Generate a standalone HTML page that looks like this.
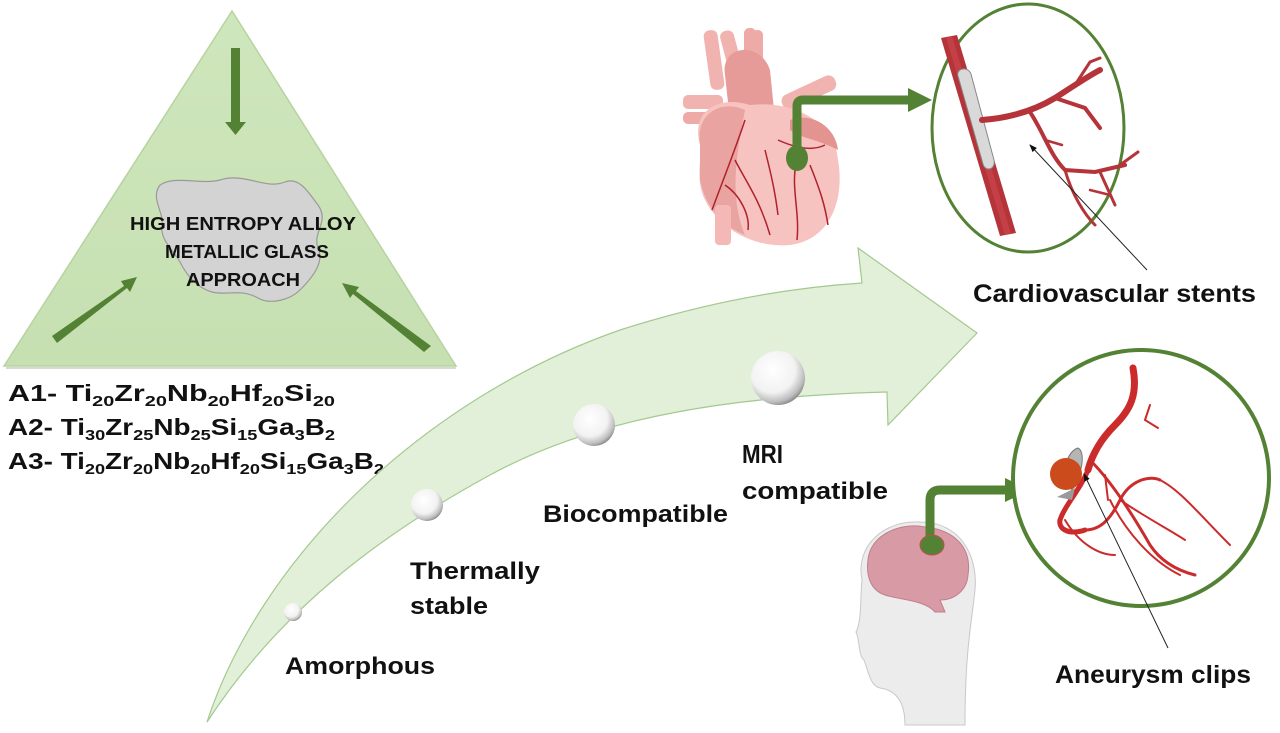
<!DOCTYPE html>
<html><head><meta charset="utf-8"><style>
html,body{margin:0;padding:0;background:#fff;width:1280px;height:733px;overflow:hidden}
svg{display:block}
text{font-family:"Liberation Sans",sans-serif;font-weight:bold;fill:#111}
</style></head><body>
<svg width="1280" height="733" viewBox="0 0 1280 733" xmlns="http://www.w3.org/2000/svg">
<defs>
<linearGradient id="tg" x1="0" y1="0" x2="0" y2="1"><stop offset="0" stop-color="#cfe6bc"/><stop offset="1" stop-color="#c6e0b2"/></linearGradient>
<radialGradient id="sp" cx="0.4" cy="0.35" r="0.7"><stop offset="0" stop-color="#ffffff"/><stop offset="0.6" stop-color="#f2f2f2"/><stop offset="0.85" stop-color="#bdbdbd"/><stop offset="1" stop-color="#7a7a7a"/></radialGradient>
<marker id="ah" markerWidth="8" markerHeight="8" refX="7" refY="4" orient="auto" markerUnits="userSpaceOnUse"><path d="M0,1 L8,4 L0,7 Z" fill="#111"/></marker>
</defs>

<!-- Triangle -->
<polygon points="232,11 4,366 456,366" fill="url(#tg)" stroke="#b7d3a0" stroke-width="1.5"/>
<line x1="6" y1="368" x2="456" y2="368" stroke="#aab89f" stroke-width="2" opacity="0.5"/>
<path d="M160,185 C175,175 200,185 220,180 C245,172 265,190 285,182 C300,176 310,195 318,205 C330,222 312,232 318,248 C325,262 312,278 300,290 C290,300 270,305 258,298 C240,288 228,296 212,292 C198,288 188,278 180,262 C172,248 160,240 162,225 C164,212 150,198 160,185 Z" fill="#d3d3d3" stroke="#9a9a9a" stroke-width="1.2"/>
<text x="243" y="230" font-size="18" text-anchor="middle" textLength="226" lengthAdjust="spacingAndGlyphs">HIGH ENTROPY ALLOY</text>
<text x="247" y="258" font-size="18" text-anchor="middle" textLength="164" lengthAdjust="spacingAndGlyphs">METALLIC GLASS</text>
<text x="243" y="286" font-size="18" text-anchor="middle" textLength="114" lengthAdjust="spacingAndGlyphs">APPROACH</text>
<g fill="#548235">
<polygon points="231,48 240,48 240,122 246,122 235.5,135 225,122 231,122"/>
<polygon points="52,336 124,286 121,281 137,277 130,292 127,288 57,343"/>
<polygon points="431,346 356,291 359,287 342,283 350,298 353,294 424,352"/>
</g>
<text x="8" y="401" font-size="23" textLength="327" lengthAdjust="spacingAndGlyphs">A1- Ti<tspan font-size="15" dy="5">20</tspan><tspan dy="-5">Zr</tspan><tspan font-size="15" dy="5">20</tspan><tspan dy="-5">Nb</tspan><tspan font-size="15" dy="5">20</tspan><tspan dy="-5">Hf</tspan><tspan font-size="15" dy="5">20</tspan><tspan dy="-5">Si</tspan><tspan font-size="15" dy="5">20</tspan></text>
<text x="8" y="435" font-size="23" textLength="327" lengthAdjust="spacingAndGlyphs">A2- Ti<tspan font-size="15" dy="5">30</tspan><tspan dy="-5">Zr</tspan><tspan font-size="15" dy="5">25</tspan><tspan dy="-5">Nb</tspan><tspan font-size="15" dy="5">25</tspan><tspan dy="-5">Si</tspan><tspan font-size="15" dy="5">15</tspan><tspan dy="-5">Ga</tspan><tspan font-size="15" dy="5">3</tspan><tspan dy="-5">B</tspan><tspan font-size="15" dy="5">2</tspan></text>
<text x="8" y="469" font-size="23" textLength="376" lengthAdjust="spacingAndGlyphs">A3- Ti<tspan font-size="15" dy="5">20</tspan><tspan dy="-5">Zr</tspan><tspan font-size="15" dy="5">20</tspan><tspan dy="-5">Nb</tspan><tspan font-size="15" dy="5">20</tspan><tspan dy="-5">Hf</tspan><tspan font-size="15" dy="5">20</tspan><tspan dy="-5">Si</tspan><tspan font-size="15" dy="5">15</tspan><tspan dy="-5">Ga</tspan><tspan font-size="15" dy="5">3</tspan><tspan dy="-5">B</tspan><tspan font-size="15" dy="5">2</tspan></text>

<!-- big curved arrow -->
<path d="M207,722 C260,560 420,400 620,330 C720,298 800,287 862,283 L858,248 L977,333 L888,425 L887,392 C740,396 600,415 490,475 C380,535 280,610 207,722 Z" fill="#e2f0d9" stroke="#a4c98f" stroke-width="1.2"/>
<circle cx="293" cy="612" r="9" fill="url(#sp)"/>
<circle cx="427" cy="505" r="16" fill="url(#sp)"/>
<circle cx="594" cy="425" r="21" fill="url(#sp)"/>
<circle cx="778" cy="378" r="27" fill="url(#sp)"/>
<text x="285" y="674" font-size="24" textLength="150" lengthAdjust="spacingAndGlyphs">Amorphous</text>
<text x="410" y="579" font-size="24" textLength="130" lengthAdjust="spacingAndGlyphs">Thermally</text>
<text x="410" y="614" font-size="24" textLength="78" lengthAdjust="spacingAndGlyphs">stable</text>
<text x="543" y="522" font-size="24" textLength="185" lengthAdjust="spacingAndGlyphs">Biocompatible</text>
<text x="742" y="463" font-size="26" textLength="41" lengthAdjust="spacingAndGlyphs">MRI</text>
<text x="742" y="499" font-size="24" textLength="146" lengthAdjust="spacingAndGlyphs">compatible</text>

<!-- heart -->
<g>
<rect x="707" y="30" width="14" height="60" rx="6" fill="#f1b3b0" transform="rotate(-8 714 60)"/>
<rect x="725" y="30" width="14" height="50" rx="6" fill="#f1b3b0" transform="rotate(-15 732 55)"/>
<rect x="744" y="28" width="12" height="45" rx="5" fill="#eeaaa7"/>
<rect x="752" y="30" width="11" height="40" rx="5" fill="#eeaaa7"/>
<path d="M725,75 C720,45 760,40 770,70 L775,120 L730,120 Z" fill="#e79b98"/>
<rect x="683" y="95" width="40" height="14" rx="5" fill="#f1b3b0"/>
<rect x="683" y="112" width="38" height="12" rx="5" fill="#eeaaa7"/>
<rect x="780" y="85" width="58" height="16" rx="7" fill="#f1b3b0" transform="rotate(-25 808 93)"/>
<path d="M700,145 C690,110 720,95 750,105 C790,100 835,120 838,160 C845,200 830,240 790,245 C755,248 720,230 705,200 C695,180 702,160 700,145 Z" fill="#f6c3c0"/>
<path d="M700,145 C695,110 725,100 745,110 C735,160 730,200 745,235 C720,225 705,205 700,180 Z" fill="#e9a3a0"/>
<path d="M790,120 C810,112 835,125 838,150 C820,140 800,138 790,130 Z" fill="#e39491"/>
<rect x="715" y="205" width="16" height="40" rx="4" fill="#f4b9b6"/>
<g fill="none" stroke="#b0212a" stroke-width="1.5">
<path d="M745,120 C735,150 725,175 712,210"/><path d="M735,160 C745,180 760,200 770,235"/><path d="M725,185 C740,195 750,215 748,230"/>
<path d="M778,140 C800,150 815,150 825,145"/><path d="M797,160 C790,185 800,210 797,240"/><path d="M810,165 C820,190 825,205 828,225"/><path d="M765,150 C770,170 775,190 778,215"/>
</g>
</g>
<path d="M797,158 L797,106 Q797,100 803,100 L910,100" fill="none" stroke="#548235" stroke-width="9"/>
<polygon points="908,88 932,100 908,112" fill="#548235"/>
<ellipse cx="797" cy="158" rx="11" ry="13" fill="#548235"/>

<!-- circle 1 -->
<ellipse cx="1028" cy="128" rx="96" ry="124" fill="#fff" stroke="#548235" stroke-width="3"/>
<polygon points="941,38 957,35 1016,233 1000,236" fill="#b5343a"/>
<polygon points="946,37 952,36 1011,234 1005,235" fill="#cf4a4e" opacity="0.6"/>
<path d="M958,76 C956,68 968,66 971,74 L994,160 C996,170 985,172 983,164 Z" fill="#d9d9d9" stroke="#888" stroke-width="1"/>
<g fill="none" stroke="#b5343a" stroke-linecap="round">
<path d="M982,120 C1010,118 1035,110 1055,98 C1075,85 1090,75 1100,70" stroke-width="6"/>
<path d="M1055,98 L1085,108 L1100,128" stroke-width="4"/>
<path d="M1075,85 L1090,62 L1100,58" stroke-width="3"/>
<path d="M1030,112 C1045,135 1050,155 1065,170 L1095,172 L1125,165" stroke-width="4"/>
<path d="M1065,170 C1072,195 1085,215 1095,225" stroke-width="3"/>
<path d="M1100,172 L1115,205" stroke-width="3"/><path d="M1120,165 L1138,152" stroke-width="3"/>
<path d="M1090,190 L1110,195" stroke-width="2.5"/><path d="M1045,140 L1062,145" stroke-width="2.5"/>
</g>
<line x1="1147" y1="270" x2="1030" y2="145" stroke="#222" stroke-width="1" marker-end="url(#ah)"/>
<text x="973" y="302" font-size="25" textLength="283" lengthAdjust="spacingAndGlyphs">Cardiovascular stents</text>

<!-- brain / head -->
<path d="M862,580 C855,545 885,520 920,522 C960,522 978,555 975,590 C972,620 965,650 965,725 L905,725 C905,700 895,690 880,688 C870,686 868,670 864,660 C858,655 860,640 856,632 C862,620 860,600 862,580 Z" fill="#ececec" stroke="#c8c8c8" stroke-width="1"/>
<path d="M868,560 C870,535 900,522 925,527 C955,530 972,548 968,575 C967,590 955,600 940,600 L945,612 L935,612 C925,600 900,600 885,595 C870,590 866,575 868,560 Z" fill="#d89aa5" stroke="#c07f8c" stroke-width="1"/>
<path d="M930,545 L930,500 Q930,490 940,490 L1008,490" fill="none" stroke="#548235" stroke-width="9"/>
<polygon points="1005,478 1030,490 1005,502" fill="#548235"/>
<ellipse cx="932" cy="545" rx="12" ry="10" fill="#548235" stroke="#c0504d" stroke-width="1"/>

<!-- circle 2 -->
<circle cx="1141" cy="478" r="128" fill="#fff" stroke="#548235" stroke-width="4"/>
<g fill="none" stroke="#cc2b2b" stroke-linecap="round">
<path d="M1133,368 C1138,395 1130,410 1115,425 C1100,440 1092,455 1088,470" stroke-width="7"/>
<path d="M1088,470 C1080,490 1065,505 1060,520 C1058,530 1070,535 1085,530" stroke-width="5"/>
<path d="M1085,530 C1100,530 1110,520 1120,500 C1130,480 1150,475 1160,480" stroke-width="3"/>
<path d="M1090,460 C1110,480 1130,510 1150,545 C1160,560 1175,570 1195,575" stroke-width="3"/>
<path d="M1110,500 C1125,530 1150,560 1180,575" stroke-width="2"/>
<path d="M1160,480 C1180,490 1200,515 1230,545" stroke-width="2"/>
<path d="M1120,500 C1150,520 1170,530 1185,540" stroke-width="2"/>
<path d="M1065,520 C1080,545 1100,555 1115,555" stroke-width="2"/>
<path d="M1150,405 L1145,420 L1158,428" stroke-width="2"/>
<path d="M1105,475 L1108,500" stroke-width="2"/>
</g>
<path d="M1066,480 C1062,465 1070,450 1078,448 C1086,452 1082,475 1072,490 Z" fill="#b5b5b5" stroke="#777" stroke-width="1"/>
<path d="M1057,497 L1075,488 L1072,500 Z" fill="#9a9a9a"/>
<circle cx="1066" cy="474" r="16" fill="#cc4b1c"/>
<line x1="1168" y1="648" x2="1084" y2="474" stroke="#222" stroke-width="1" marker-end="url(#ah)"/>
<text x="1055" y="683" font-size="25" textLength="196" lengthAdjust="spacingAndGlyphs">Aneurysm clips</text>
</svg>
</body></html>
